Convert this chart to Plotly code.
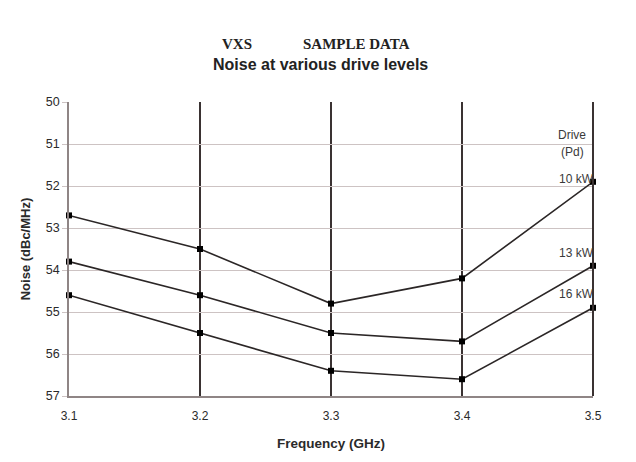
import plotly.graph_objects as go

freq = [3.1, 3.2, 3.3, 3.4, 3.5]
noise_10kw = [52.7, 53.5, 54.8, 54.2, 51.9]
noise_13kw = [53.8, 54.6, 55.5, 55.7, 53.9]
noise_16kw = [54.6, 55.5, 56.4, 56.6, 54.9]
series_labels = ["10 kW", "13 kW", "16 kW"]
label_shift = [3, 13, 14]
y_ticks = [50, 51, 52, 53, 54, 55, 56, 57]
x_ticks = [3.1, 3.2, 3.3, 3.4, 3.5]

fig = go.Figure()
for vals, name in zip([noise_10kw, noise_13kw, noise_16kw], series_labels):
    fig.add_trace(go.Scatter(
        x=freq, y=vals, mode="lines+markers", name=name,
        line=dict(color="#2b2626", width=1.6),
        marker=dict(symbol="square", size=6, color="#000000"),
        showlegend=False, cliponaxis=False,
    ))

lab_font = dict(family="Arial, Liberation Sans", size=12, color="#3a3a3a")
for vals, name, sh in zip([noise_10kw, noise_13kw, noise_16kw], series_labels, label_shift):
    fig.add_annotation(x=freq[-1], y=vals[-1], xref="x", yref="y", text=name,
                       showarrow=False, xanchor="right", yanchor="middle", yshift=sh, xshift=3,
                       font=lab_font)

fig.add_annotation(x=0.96, y=0.888, xref="paper", yref="paper", text="Drive", showarrow=False,
                   xanchor="center", yanchor="middle", font=lab_font)
fig.add_annotation(x=0.96, y=0.83, xref="paper", yref="paper", text="(Pd)", showarrow=False,
                   xanchor="center", yanchor="middle", font=lab_font)

fig.add_annotation(x=0.321, y=1.197, xref="paper", yref="paper", text="<b>VXS</b>", showarrow=False,
                   xanchor="center", yanchor="middle",
                   font=dict(family="Liberation Serif, Times New Roman", size=15, color="#222222"))
fig.add_annotation(x=0.548, y=1.197, xref="paper", yref="paper", text="<b>SAMPLE DATA</b>", showarrow=False,
                   xanchor="center", yanchor="middle",
                   font=dict(family="Liberation Serif, Times New Roman", size=15, color="#222222"))
fig.add_annotation(x=0.48, y=1.127, xref="paper", yref="paper", text="<b>Noise at various drive levels</b>",
                   showarrow=False, xanchor="center", yanchor="middle",
                   font=dict(family="Arial, Liberation Sans", size=16, color="#222222"))

fig.add_shape(type="line", xref="paper", yref="paper", x0=1, x1=1, y0=0, y1=1,
              line=dict(color="#3a3232", width=2))

fig.update_layout(
    width=636, height=462,
    margin=dict(l=61, r=51, t=94, b=74),
    paper_bgcolor="#ffffff", plot_bgcolor="#ffffff",
    font=dict(family="Arial, Liberation Sans", color="#333333"),
)
fig.update_xaxes(
    range=[3.1, 3.5], tickvals=x_ticks, ticktext=[str(v) for v in x_ticks],
    showgrid=True, gridcolor="#3a3232", gridwidth=2,
    showline=True, linecolor="#8f8585", linewidth=1.5,
    ticks="outside", ticklen=8, tickcolor="rgba(0,0,0,0)",
    tickfont=dict(size=12, color="#2a2a2a"),
    title=dict(text="<b>Frequency (GHz)</b>", font=dict(size=13.5, color="#2a2a2a"), standoff=16),
    zeroline=False,
)
fig.update_yaxes(
    range=[57, 50], tickvals=y_ticks,
    showgrid=True, gridcolor="#cdc3c3", gridwidth=1.3,
    showline=True, linecolor="#8f8585", linewidth=1.5,
    ticks="outside", ticklen=5, tickcolor="#cdc3c3",
    tickfont=dict(size=12.5, color="#2a2a2a"),
    title=dict(text="<b>Noise (dBc/MHz)</b>", font=dict(size=13, color="#2a2a2a"), standoff=12),
    zeroline=False,
)

fig.write_html("out.html")
